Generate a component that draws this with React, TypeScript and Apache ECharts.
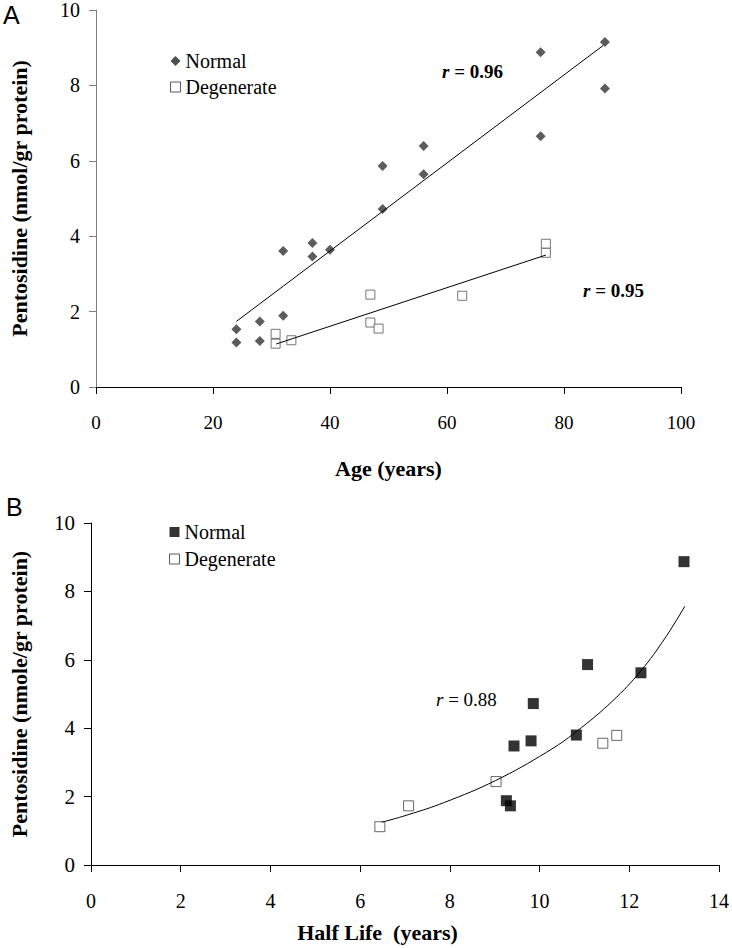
import React, { useEffect, useRef } from "react";
import * as echarts from "echarts";

// ---- Panel A: pentosidine vs age ----
const ageNormalA = [24, 24, 28, 28, 32, 32, 37, 37, 40, 49, 49, 56, 56, 76, 76, 87, 87];
const pentoNormalA = [1.53, 1.18, 1.74, 1.22, 3.61, 1.89, 3.82, 3.46, 3.64, 4.72, 5.86, 6.39, 5.64, 8.88, 6.65, 9.15, 7.92];
const ageDegenA = [30.7, 30.7, 33.4, 46.9, 46.9, 48.3, 62.6, 76.9, 76.9];
const pentoDegenA = [1.41, 1.15, 1.24, 2.45, 1.71, 1.55, 2.42, 3.8, 3.56];
const trendNormalAgeA = [24, 86.7];
const trendNormalPentoA = [1.74, 9.06];
const trendDegenAgeA = [30.8, 76.9];
const trendDegenPentoA = [1.14, 3.5];

// ---- Panel B: pentosidine vs half life ----
const halfNormalB = [13.22, 11.07, 12.26, 9.86, 9.81, 9.43, 10.82, 9.26, 9.35];
const pentoNormalB = [8.87, 5.86, 5.62, 4.72, 3.63, 3.48, 3.8, 1.88, 1.73];
const halfDegenB = [6.44, 7.08, 9.03, 11.41, 11.72];
const pentoDegenB = [1.12, 1.73, 2.44, 3.56, 3.79];
const fitHalfB = [6.48, 7.07, 7.88, 9.02, 10.16, 10.82, 11.63, 12.26, 12.8, 13.24];
const fitPentoB = [1.25, 1.47, 1.83, 2.47, 3.3, 3.9, 4.8, 5.68, 6.64, 7.57];

const xTicksA = [0, 100, 20];
const yTicks = [0, 10, 2];
const xTicksB = [0, 14, 2];

const zip = (xs: number[], ys: number[]) => xs.map((x, i) => [x, ys[i]]);

const SERIF = "Liberation Serif";
const SANS = "Liberation Sans";

function axisCommon(color: string, labelSize: number, margin: number) {
  return {
    type: "value" as const,
    axisLine: { show: true, onZero: false, lineStyle: { color, width: 1 } },
    axisTick: { show: true, length: 7, lineStyle: { color, width: 1 } },
    axisLabel: { fontFamily: SERIF, fontSize: labelSize, color: "#000", margin },
    splitLine: { show: false },
    nameLocation: "middle" as const,
    nameTextStyle: { fontFamily: SERIF, fontWeight: "bold" as const, fontSize: 22, color: "#000" },
  };
}

export default function App() {
  const ref = useRef<HTMLDivElement>(null);
  useEffect(() => {
    if (!ref.current) return;
    const chart = echarts.init(ref.current, undefined, { renderer: "svg" });
    const lineStyle = { color: "#000", width: 1 };
    const legendText = { fontFamily: SERIF, fontSize: 20, color: "#000", lineHeight: 20 };
    const option = {
      animation: false,
      backgroundColor: "#ffffff",
      textStyle: { fontFamily: SERIF },
      grid: [
        { left: 90, right: 51, top: 7, bottom: 561 },
        { left: 86, right: 11, top: 523, bottom: 83 },
      ],
      xAxis: [
        {
          ...axisCommon("#000", 19, 26),
          gridIndex: 0,
          min: xTicksA[0],
          max: xTicksA[1],
          interval: xTicksA[2],
          name: "Age (years)",
          nameGap: 70,
        },
        {
          ...axisCommon("#000", 20, 26),
          gridIndex: 1,
          min: xTicksB[0],
          max: xTicksB[1],
          interval: xTicksB[2],
          name: "Half Life  (years)",
          nameGap: 56,
          nameTextStyle: {
            fontFamily: SERIF,
            fontWeight: "bold",
            fontSize: 22,
            color: "#000",
            padding: [0, 55, 0, 0],
          },
        },
      ],
      yAxis: [
        {
          ...axisCommon("#808080", 20, 16),
          gridIndex: 0,
          min: yTicks[0],
          max: yTicks[1],
          interval: yTicks[2],
          name: "Pentosidine (nmol/gr protein)",
          nameGap: 66,
        },
        {
          ...axisCommon("#000", 21, 16),
          gridIndex: 1,
          min: yTicks[0],
          max: yTicks[1],
          interval: yTicks[2],
          name: "Pentosidine (nmole/gr protein)",
          nameGap: 61,
        },
      ],
      legend: [
        {
          orient: "vertical",
          left: 165,
          top: 46,
          itemWidth: 10,
          itemHeight: 10,
          itemGap: 6,
          selectedMode: false,
          textStyle: legendText,
          data: [
            { name: "Normal", icon: "diamond", itemStyle: { color: "#222", borderWidth: 0 } },
            { name: "Degenerate", icon: "rect", itemStyle: { color: "#fff", borderColor: "#333", borderWidth: 1 } },
          ],
        },
        {
          orient: "vertical",
          left: 164,
          top: 517,
          itemWidth: 10,
          itemHeight: 10,
          itemGap: 7,
          selectedMode: false,
          textStyle: legendText,
          data: [
            { name: "Normal", icon: "rect", itemStyle: { color: "#000", borderWidth: 0 } },
            { name: "Degenerate", icon: "rect", itemStyle: { color: "#fff", borderColor: "#333", borderWidth: 1 } },
          ],
        },
      ],
      series: [
        {
          name: "Normal",
          type: "scatter",
          xAxisIndex: 0,
          yAxisIndex: 0,
          symbol: "diamond",
          symbolSize: 10,
          itemStyle: { color: "#333" },
          data: zip(ageNormalA, pentoNormalA),
          z: 2,
        },
        {
          name: "Degenerate",
          type: "scatter",
          xAxisIndex: 0,
          yAxisIndex: 0,
          symbol: "rect",
          symbolSize: 9,
          itemStyle: { color: "#fff", borderColor: "#555", borderWidth: 1 },
          data: zip(ageDegenA, pentoDegenA),
          z: 2,
        },
        {
          name: "Normal trend A",
          type: "line",
          xAxisIndex: 0,
          yAxisIndex: 0,
          symbol: "none",
          lineStyle,
          data: zip(trendNormalAgeA, trendNormalPentoA),
          z: 3,
          silent: true,
        },
        {
          name: "Degenerate trend A",
          type: "line",
          xAxisIndex: 0,
          yAxisIndex: 0,
          symbol: "none",
          lineStyle,
          data: zip(trendDegenAgeA, trendDegenPentoA),
          z: 3,
          silent: true,
        },
        {
          name: "Normal",
          type: "scatter",
          xAxisIndex: 1,
          yAxisIndex: 1,
          symbol: "rect",
          symbolSize: 11,
          itemStyle: { color: "#000" },
          data: zip(halfNormalB, pentoNormalB),
          z: 2,
        },
        {
          name: "Degenerate",
          type: "scatter",
          xAxisIndex: 1,
          yAxisIndex: 1,
          symbol: "rect",
          symbolSize: 10,
          itemStyle: { color: "#fff", borderColor: "#444", borderWidth: 1 },
          data: zip(halfDegenB, pentoDegenB),
          z: 2,
        },
        {
          name: "Exponential fit B",
          type: "line",
          xAxisIndex: 1,
          yAxisIndex: 1,
          symbol: "none",
          smooth: 0.4,
          lineStyle,
          data: zip(fitHalfB, fitPentoB),
          z: 3,
          silent: true,
        },
      ],
      graphic: [
        {
          type: "text",
          left: 3,
          top: 2,
          style: { text: "A", fontFamily: SANS, fontSize: 25, fill: "#000" },
        },
        {
          type: "text",
          left: 6,
          top: 494,
          style: { text: "B", fontFamily: SANS, fontSize: 25, fill: "#000" },
        },
        {
          type: "text",
          left: 442,
          top: 62,
          style: {
            text: "{i|r} = 0.96",
            fontFamily: SERIF,
            fontSize: 19,
            fontWeight: "bold",
            fill: "#000",
            rich: { i: { fontStyle: "italic", fontWeight: "bold", fontFamily: SERIF, fontSize: 19 } },
          },
        },
        {
          type: "text",
          left: 583,
          top: 281,
          style: {
            text: "{i|r} = 0.95",
            fontFamily: SERIF,
            fontSize: 19,
            fontWeight: "bold",
            fill: "#000",
            rich: { i: { fontStyle: "italic", fontWeight: "bold", fontFamily: SERIF, fontSize: 19 } },
          },
        },
        {
          type: "text",
          left: 436,
          top: 690,
          style: {
            text: "{i|r} = 0.88",
            fontFamily: SERIF,
            fontSize: 19,
            fill: "#000",
            rich: { i: { fontStyle: "italic", fontFamily: SERIF, fontSize: 19 } },
          },
        },
      ],
    };
    chart.setOption(option as any);
    return () => chart.dispose();
  }, []);
  return (
    <div
      ref={ref}
      style={{ position: "fixed", left: 0, top: 0, width: 732, height: 948, background: "#fff" }}
    />
  );
}
